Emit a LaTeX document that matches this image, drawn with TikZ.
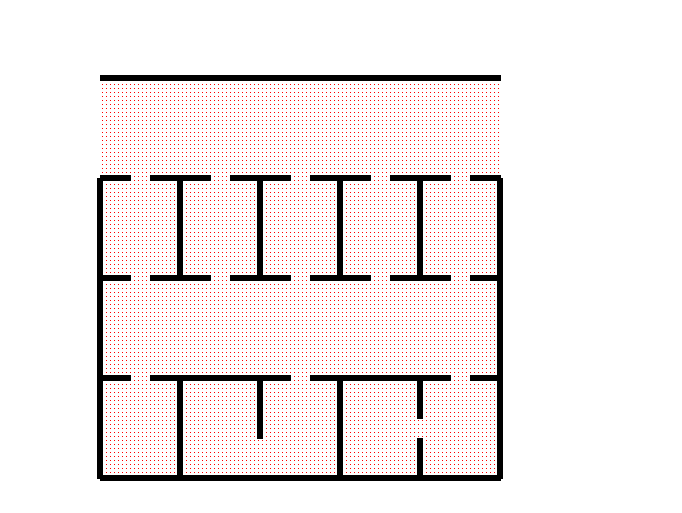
\documentclass[tikz,border=0pt]{standalone}

\begin{document}
\begin{tikzpicture}[x=0.75pt,y=-0.75pt,
                    wall/.style={line width=4.5pt,black},
                    dot/.style={fill=red},
                   ]
  \useasboundingbox (0,0) rectangle (682,512);

  % dotted floor
  \foreach \row in {84,88,...,472} {
    \foreach \col in {102,106,...,498} {
      \fill[dot] (\col,\row) rectangle ++(1,1);
    }
  }

  % top line and the three rows with doors
  \draw[wall] (100,78) -- (501,78);
  \foreach \row in {178,278} {
    \foreach \from/\to in {100/131,150/211,230/291,310/371,390/451,470/501} {
      \draw[wall] (\from,\row) -- (\to,\row);
    }
  }
  \foreach \from/\to in {100/131,150/291,310/451,470/501} {
    \draw[wall] (\from,378) -- (\to,378);
  }
  \draw[wall] (100,478) -- (501,478);

  % outer walls
  \foreach \col in {100,500} {
    \draw[wall] (\col,178) -- (\col,479);
  }

  % inner walls
  \foreach \col in {180,260,340,420} {
    \draw[wall] (\col,178) -- (\col,278);
  }
  \draw[wall] (180,378) -- (180,478);
  \draw[wall] (260,378) -- (260,439);
  \draw[wall] (340,378) -- (340,478);
  \draw[wall] (420,378) -- (420,419);
  \draw[wall] (420,438) -- (420,478);
\end{tikzpicture}
\end{document}
